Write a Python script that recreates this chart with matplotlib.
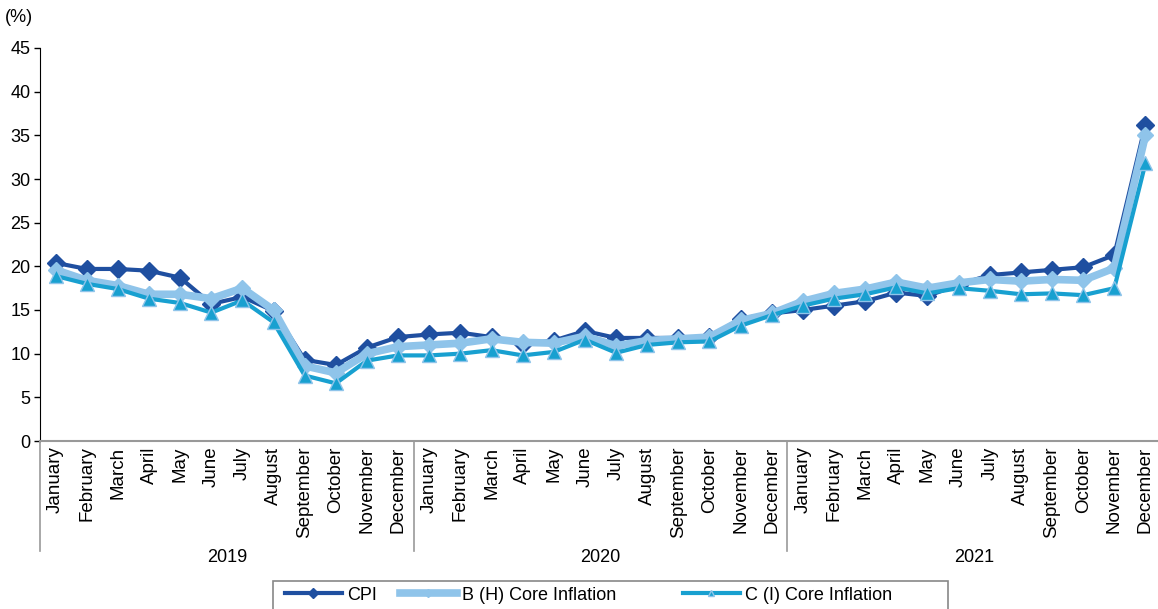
import matplotlib.pyplot as plt
import matplotlib.transforms as mtransforms
from matplotlib.patches import Rectangle

plt.rcParams['font.family'] = ['Liberation Sans', 'DejaVu Sans']

meses = ["January", "February", "March", "April", "May", "June", "July",
         "August", "September", "October", "November", "December"]
anos = ["2019", "2020", "2021"]
rotulos = meses * len(anos)

cpi = [20.4, 19.7, 19.7, 19.5, 18.7, 15.7, 16.5, 14.9, 9.3, 8.7, 10.7, 11.9,
       12.2, 12.4, 11.9, 11.1, 11.5, 12.6, 11.8, 11.8, 11.8, 11.9, 14.0, 14.6,
       15.0, 15.5, 16.0, 17.0, 16.6, 17.9, 19.0, 19.3, 19.6, 19.9, 21.3, 36.2]
core_b = [19.6, 18.4, 17.8, 16.8, 16.8, 16.3, 17.5, 15.0, 8.6, 7.8, 10.0, 10.8,
          11.0, 11.2, 11.7, 11.3, 11.2, 12.0, 10.9, 11.5, 11.7, 11.9, 13.8, 14.6,
          16.0, 16.9, 17.4, 18.2, 17.5, 18.1, 18.5, 18.3, 18.5, 18.4, 19.8, 35.0]
core_c = [18.9, 18.0, 17.4, 16.3, 15.8, 14.7, 16.1, 13.6, 7.5, 6.6, 9.2, 9.8,
          9.8, 10.0, 10.4, 9.8, 10.2, 11.6, 10.1, 11.0, 11.3, 11.4, 13.2, 14.4,
          15.5, 16.3, 16.8, 17.6, 16.9, 17.5, 17.2, 16.8, 16.9, 16.7, 17.5, 31.8]

cor_cpi = "#1f4fa0"
cor_b = "#8fc4ea"
cor_c = "#18a0d0"

fig = plt.figure(figsize=(11.58, 6.09), dpi=100)
ax = fig.add_axes([40 / 1158, 168 / 609, 1121 / 1158, 393 / 609])

x = list(range(len(cpi)))
l1, = ax.plot(x, cpi, color=cor_cpi, linewidth=3, marker='D', markersize=9.5,
              markerfacecolor=cor_cpi, markeredgecolor=cor_cpi, label='CPI')
l2, = ax.plot(x, core_b, color=cor_b, linewidth=5.5, marker='D', markersize=8,
              markerfacecolor=cor_b, markeredgecolor=cor_b, label='B (H) Core Inflation')
l3, = ax.plot(x, core_c, color=cor_c, linewidth=3, marker='^', markersize=10,
              markerfacecolor=cor_c, markeredgecolor=cor_b, markeredgewidth=1,
              label='C (I) Core Inflation')

ax.set_xlim(-0.5, len(cpi) - 0.5)
ax.set_ylim(0, 45)
ax.set_yticks(range(0, 50, 5))
ax.tick_params(axis='y', labelsize=13, length=4, width=1, direction='out', pad=3)
ax.set_xticks(x)
ax.set_xticklabels(rotulos, rotation=90, fontsize=13.5)
ax.tick_params(axis='x', length=0, pad=4)

for lado in ['top', 'right']:
    ax.spines[lado].set_visible(False)
ax.spines['left'].set_color('black')
ax.spines['bottom'].set_color('#999999')
ax.spines['bottom'].set_linewidth(1.5)

trans = mtransforms.blended_transform_factory(ax.transData, ax.transAxes)
for i in range(len(anos) + 1):
    xs = i * 12 - 0.5
    ax.plot([xs, xs], [0, -0.28], transform=trans, color='#999999',
            linewidth=1.2, clip_on=False)
for i, ano in enumerate(anos):
    ax.text(i * 12 + 5.5, -0.297, ano, transform=trans, ha='center',
            va='center', fontsize=13)

fig.text(5 / 1158, 1 - 18 / 609, "(%)", fontsize=13, va='center', ha='left')

# caixa da legenda
fig.patches.append(Rectangle((273 / 1158, -0.01), 675 / 1158, (609 - 581) / 609 + 0.01,
                             transform=fig.transFigure, facecolor='white',
                             edgecolor='#888888', linewidth=1.2))
for linha, xpos in [(l1, 285), (l2, 400), (l3, 683)]:
    lg = fig.legend(handles=[linha], loc='center left',
                    bbox_to_anchor=(xpos / 1158, 1 - 595 / 609),
                    fontsize=13, frameon=False, handlelength=3.15,
                    handletextpad=0.3, markerscale=0.5, borderpad=0,
                    borderaxespad=0)

fig.savefig("out.png", dpi=100)
